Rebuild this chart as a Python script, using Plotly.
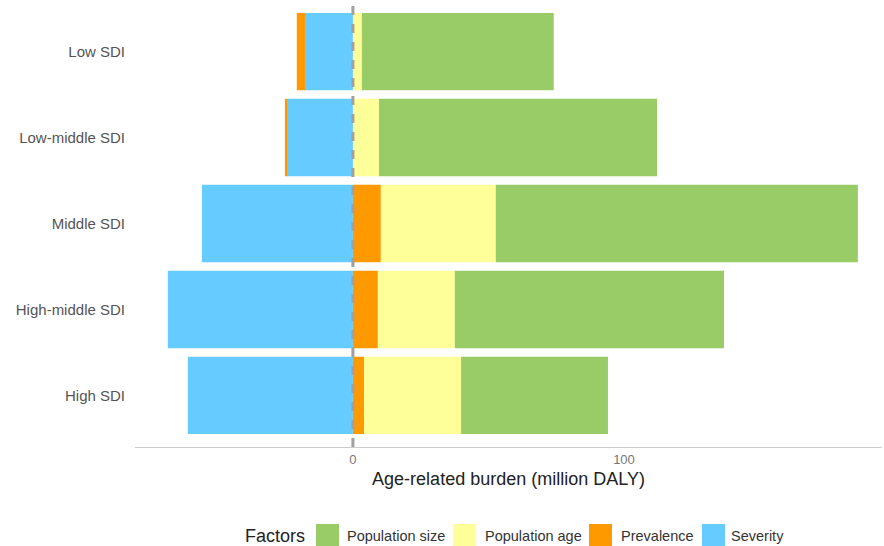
import plotly.graph_objects as go

categories = ["High SDI", "High-middle SDI", "Middle SDI", "Low-middle SDI", "Low SDI"]
severity = [-60.9, -68.3, -55.7, -24.4, -17.7]
prevalence = [4.1, 9.2, 10.3, -0.7, -3.0]
population_age = [35.8, 28.4, 42.4, 9.6, 3.3]
population_size = [54.2, 99.3, 133.6, 102.6, 70.8]
legend_title = "Factors"
legend_order = ["Population size", "Population age", "Prevalence", "Severity"]

colors = {
    "Severity": "#66CCFF",
    "Prevalence": "#FF9900",
    "Population age": "#FFFF99",
    "Population size": "#99CC66",
}

W, H = 884, 546
ML, MR, MT, MB = 135, 2, 0, 99
PW, PH = W - ML - MR, H - MT - MB


def px(x):
    return (x - ML) / PW


def py(y):
    return (H - MB - y) / PH


fig = go.Figure()
for name, vals in [("Severity", severity), ("Prevalence", prevalence),
                   ("Population age", population_age), ("Population size", population_size)]:
    fig.add_trace(go.Bar(y=categories, x=vals, orientation="h", name=name,
                         showlegend=False,
                         marker=dict(color=colors[name], line=dict(width=0))))

fig.add_shape(type="line", xref="x", yref="paper", x0=0, x1=0, y0=0, y1=1,
              line=dict(color="#A0A0A0", width=3, dash="dash"), layer="above")

# manual legend (large swatches like the reference)
ly = 536
fig.add_annotation(text=legend_title, xref="paper", yref="paper", x=px(243), y=py(ly),
                   xanchor="left", yanchor="middle", showarrow=False,
                   font=dict(size=18, color="#222"))
sw_left = [316, 453, 589, 702]
txt_left = [345, 483, 619, 729]
for name, sx, tx in zip(legend_order, sw_left, txt_left):
    fig.add_shape(type="rect", xref="paper", yref="paper",
                  x0=px(sx), x1=px(sx + 23), y0=py(547), y1=py(524),
                  fillcolor=colors[name], line=dict(width=0))
    fig.add_annotation(text=name, xref="paper", yref="paper", x=px(tx), y=py(ly),
                       xanchor="left", yanchor="middle", showarrow=False,
                       font=dict(size=14.5, color="#333"))

fig.update_layout(
    barmode="relative",
    bargap=0.1,
    width=W, height=H,
    margin=dict(l=ML, r=MR, t=MT, b=MB, autoexpand=False),
    plot_bgcolor="white", paper_bgcolor="white",
    font=dict(family="Liberation Sans, Arial, sans-serif", color="#444"),
    xaxis=dict(range=[-80.4, 195.2], tickvals=[0, 100], ticktext=["0", "100"],
               showgrid=False, zeroline=False, showline=True, linecolor="#CCCCCC",
               linewidth=1, ticks="", tickfont=dict(size=13, color="#777"),
               automargin=False,
               title=dict(text="Age-related burden (million DALY)",
                          font=dict(size=18, color="#222"), standoff=6)),
    yaxis=dict(range=[-0.6, 4.6], showgrid=False, zeroline=False, showline=False,
               ticks="", tickfont=dict(size=15, color="#555"), ticklabelstandoff=9,
               automargin=False),
    showlegend=False,
)

fig.write_html("out.html", config={"displayModeBar": False},
               post_script="document.body.style.margin='0';document.body.style.overflow='hidden';")
